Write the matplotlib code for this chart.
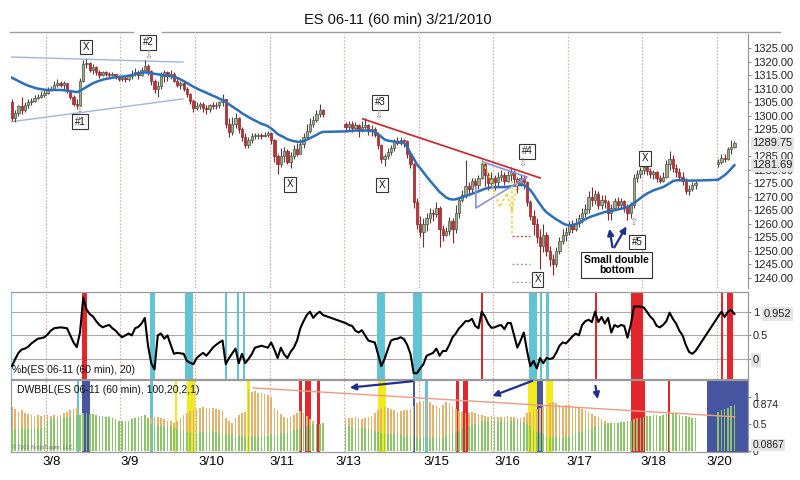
import numpy as np
import matplotlib.pyplot as plt
from matplotlib.lines import Line2D
from matplotlib.transforms import blended_transform_factory

plt.rcParams['font.family'] = ['Liberation Sans', 'DejaVu Sans']

# hourly slots; the empty stretches are hours with no bars on the chart
hours = list(range(0, 97)) + list(range(103, 212)) + list(range(218, 224))

# first open of each stretch, later opens are the previous close
first_open = [1305, 1297, 1282]

close_a = [1299, 1301, 1303.5, 1302, 1304, 1305, 1305.5, 1306.5, 1307, 1307.5,
           1308.5, 1309.5, 1310, 1311.5, 1312, 1311.5, 1312, 1309, 1307, 1304.5,
           1304, 1313, 1319, 1319.5, 1317, 1318, 1316, 1315, 1316, 1315.5,
           1315, 1315.5, 1314.5, 1313.5, 1314, 1313.5, 1314.5, 1315.5, 1316, 1315,
           1317, 1318.5, 1316.5, 1313, 1310, 1311, 1314.5, 1316, 1314.5, 1315.5,
           1313, 1311.5, 1312, 1310, 1308, 1305.5, 1303, 1303.5, 1304.5, 1303,
           1302.5, 1304, 1303.5, 1304, 1305, 1306, 1297, 1294, 1297, 1299,
           1295, 1292, 1289, 1291, 1292.5, 1292.5, 1293, 1292.5, 1293, 1293.5,
           1291, 1285, 1282, 1285, 1287, 1283, 1285, 1287.5, 1286, 1289.5,
           1292, 1294.5, 1297, 1298.5, 1300.5, 1302, 1300.5]
high_a = [1306, 1302, 1304, 1307, 1305, 1306, 1306.5, 1307.5, 1308, 1309,
          1309.5, 1310.5, 1311, 1313, 1313.5, 1313, 1313, 1312, 1309.5, 1307.5,
          1306, 1314, 1320.5, 1321, 1320, 1319, 1318.5, 1317, 1316.5, 1316.5,
          1316, 1316, 1315.5, 1315, 1315, 1314.5, 1315, 1317, 1317.5, 1317,
          1318, 1320.5, 1319, 1317, 1313.5, 1313, 1316, 1317, 1316.5, 1317,
          1316, 1314, 1313, 1312.5, 1310.5, 1308.5, 1306, 1305, 1305, 1305,
          1304, 1304.5, 1305, 1305, 1305.5, 1308, 1306, 1299, 1299.5, 1301,
          1299.5, 1296, 1293.5, 1292, 1293.5, 1293.5, 1293.5, 1293.5, 1294, 1294.5,
          1294, 1291.5, 1286, 1288, 1288.5, 1287.5, 1286.5, 1289, 1290, 1291.5,
          1293.5, 1297, 1299, 1300, 1302, 1304.5, 1302.5]
low_a = [1298, 1297.5, 1300, 1300.5, 1301.5, 1303, 1304, 1305, 1306, 1306.5,
         1307, 1308, 1309, 1309.5, 1310.5, 1310.5, 1310, 1308.5, 1306, 1303.5,
         1302.5, 1303.5, 1312.5, 1317.5, 1316, 1315.5, 1315, 1314, 1314.5, 1314.5,
         1314, 1314.5, 1313.5, 1313, 1313, 1312.5, 1313, 1313.5, 1314.5, 1313.5,
         1314.5, 1316, 1315, 1311.5, 1308.5, 1307, 1310, 1312.5, 1313, 1313.5,
         1312.5, 1310.5, 1310, 1309, 1307, 1304.5, 1301.5, 1302, 1302.5, 1301.5,
         1300.5, 1301.5, 1302.5, 1302.5, 1303, 1303.5, 1295.5, 1292, 1293, 1295.5,
         1293.5, 1290.5, 1288, 1288, 1290, 1291.5, 1291.5, 1291.5, 1292, 1292,
         1289.5, 1283, 1278.5, 1281, 1283, 1282, 1280.5, 1284, 1285, 1286,
         1288, 1291.5, 1293.5, 1296, 1297.5, 1299.5, 1299.5]

close_b = [1296, 1297, 1295.5, 1296.5, 1295, 1296, 1296.5, 1294.5, 1295, 1293,
           1289, 1284, 1285, 1286.5, 1288, 1290.5, 1290, 1291, 1290.5, 1286,
           1282, 1268, 1260, 1257, 1260, 1262, 1264, 1263.5, 1266, 1258,
           1256, 1257.5, 1261, 1258, 1264, 1269, 1270.5, 1274, 1273, 1276,
           1274.5, 1277, 1282, 1278, 1275, 1277, 1275.5, 1277.5, 1278, 1276,
           1278, 1279, 1276.5, 1275, 1277, 1275.5, 1268, 1263, 1260, 1255,
           1252, 1256, 1250, 1247, 1245, 1250, 1253.5, 1256, 1257, 1259.5,
           1258, 1260.5, 1262, 1264, 1265.5, 1270, 1269, 1271, 1267, 1269,
           1268, 1264, 1266, 1268.5, 1267, 1268.5, 1266.5, 1264, 1267, 1277,
           1278.5, 1280, 1281, 1279.5, 1278.5, 1279, 1277, 1276, 1277.5, 1282,
           1284, 1280.5, 1279, 1277.5, 1276, 1272, 1273, 1274.5, 1275]
high_b = [1297.5, 1298, 1298, 1297.5, 1297, 1298, 1299, 1297, 1296.5, 1296,
          1294, 1289.5, 1286, 1288, 1289, 1291.5, 1292, 1292, 1291.5, 1291,
          1287, 1282.5, 1269.5, 1263, 1262, 1264, 1266, 1265.5, 1268, 1266.5,
          1259.5, 1259, 1262.5, 1262, 1267, 1270, 1272.5, 1283.5, 1275.5, 1277,
          1277, 1278, 1283.5, 1282.5, 1279, 1279, 1278, 1279, 1280, 1279,
          1279.5, 1281, 1280, 1277.5, 1278, 1278, 1276, 1269, 1265, 1262,
          1258, 1260, 1257, 1252, 1249, 1251.5, 1255, 1258, 1259, 1261,
          1261.5, 1262, 1263.5, 1266, 1267.5, 1272, 1273.5, 1272.5, 1272, 1270.5,
          1270.5, 1269, 1267.5, 1269.5, 1270, 1269.5, 1269, 1267.5, 1268, 1278.5,
          1280, 1281, 1282, 1282.5, 1280.5, 1280, 1279.5, 1278, 1279, 1283.5,
          1287, 1285.5, 1282, 1280.5, 1279, 1277, 1274.5, 1275.5, 1276]
low_b = [1294.5, 1294.5, 1294, 1295, 1292, 1294, 1295, 1293, 1292.5, 1292,
         1287.5, 1282.5, 1281.5, 1284, 1285.5, 1287, 1289, 1289, 1288.5, 1284.5,
         1280.5, 1266, 1258, 1255, 1251.5, 1257.5, 1260.5, 1261, 1262.5, 1251.5,
         1253.5, 1255.5, 1256, 1253, 1256.5, 1262, 1268, 1269.5, 1271, 1271.5,
         1273, 1273, 1276.5, 1274, 1272.5, 1274, 1272.5, 1274, 1276, 1274.5,
         1275.5, 1276, 1275, 1271.5, 1274, 1273, 1266.5, 1261.5, 1256, 1253,
         1243.5, 1249.5, 1248, 1244.5, 1241, 1244, 1249, 1252.5, 1253.5, 1256,
         1256.5, 1257.5, 1259, 1260.5, 1262.5, 1264, 1266.5, 1267.5, 1265.5, 1265.5,
         1266, 1261.5, 1261.5, 1265, 1265.5, 1266, 1264.5, 1261.5, 1262, 1266,
         1275.5, 1277, 1278.5, 1278, 1277, 1276.5, 1275.5, 1275, 1275.5, 1277,
         1280, 1279, 1277.5, 1276, 1274.5, 1271, 1270.5, 1272, 1273]

close_c = [1283, 1284.5, 1284, 1287.5, 1288.5, 1289.75]
high_c = [1284, 1286, 1286, 1288.5, 1291, 1290.5]
low_c = [1281, 1282, 1283, 1283.5, 1286, 1288]

# moving average (blue line)
ma_a = [1314.0, 1313.4, 1312.8, 1312.2, 1311.6, 1311.1, 1310.7, 1310.3, 1310.0, 1309.8,
        1309.6, 1309.5, 1309.5, 1309.5, 1309.5, 1309.5, 1309.4, 1309.3, 1309.1, 1308.9,
        1308.7, 1309.2, 1309.9, 1310.6, 1311.3, 1312.0, 1312.5, 1312.9, 1313.3, 1313.6,
        1313.8, 1314.0, 1314.2, 1314.3, 1314.4, 1314.6, 1314.8, 1315.0, 1315.3, 1315.6,
        1315.9, 1316.0, 1315.9, 1315.7, 1315.5, 1315.3, 1315.1, 1314.9, 1314.7, 1314.6,
        1314.4, 1314.0, 1313.4, 1312.8, 1312.1, 1311.4, 1310.7, 1310.1, 1309.5, 1309.0,
        1308.5, 1307.9, 1307.4, 1306.9, 1306.3, 1305.8, 1305.0, 1304.2, 1303.4, 1302.6,
        1301.8, 1300.9, 1300.2, 1299.5, 1298.8, 1298.2, 1297.6, 1297.0, 1296.6, 1296.1,
        1295.3, 1294.3, 1293.2, 1292.6, 1292.0, 1291.3, 1290.9, 1290.6, 1290.4, 1290.3,
        1290.6, 1291.1, 1291.7, 1292.3, 1292.9, 1293.6, 1294.0]
ma_b = [1294.2, 1294.3, 1294.4, 1294.5, 1294.5, 1294.5, 1294.5, 1294.5, 1294.4, 1294.0,
        1293.2, 1292.2, 1291.2, 1290.8, 1290.6, 1290.4, 1290.3, 1290.2, 1290.0, 1288.5,
        1286.0, 1284.2, 1282.0, 1280.6, 1279.1, 1277.5, 1276.0, 1274.6, 1273.2, 1271.8,
        1270.8, 1269.8, 1269.2, 1269.0, 1269.1, 1269.5, 1269.9, 1270.3, 1270.7, 1271.1,
        1271.6, 1272.0, 1272.5, 1273.0, 1273.3, 1273.5, 1273.6, 1273.6, 1273.6, 1273.6,
        1273.7, 1273.9, 1274.1, 1274.3, 1274.4, 1274.4, 1273.6, 1272.5, 1270.9, 1269.0,
        1267.3, 1265.6, 1264.3, 1263.4, 1262.5, 1261.7, 1261.0, 1260.2, 1259.7, 1259.5,
        1259.6, 1259.9, 1260.3, 1261.0, 1261.8, 1262.3, 1262.8, 1263.2, 1263.6, 1264.0,
        1264.4, 1264.6, 1264.8, 1265.0, 1265.3, 1265.6, 1265.8, 1266.1, 1266.9, 1267.7,
        1268.6, 1269.5, 1270.4, 1271.2, 1271.8, 1272.4, 1272.8, 1273.2, 1273.6, 1274.3,
        1275.0, 1275.8, 1276.1, 1276.2, 1276.2, 1276.1, 1276.0, 1276.0, 1276.0]
ma_c = [1276.3, 1277.2, 1278.0, 1279.1, 1280.4, 1281.69]

# %b(20)
pctb_a = [-0.15, 0.0, 0.13, 0.2, 0.22, 0.26, 0.33, 0.38, 0.43, 0.44,
          0.46, 0.52, 0.6, 0.65, 0.66, 0.67, 0.66, 0.65, 0.5, 0.35,
          0.25, 0.56, 1.3, 1.05, 0.95, 0.9, 0.8, 0.72, 0.67, 0.7,
          0.72, 0.65, 0.6, 0.52, 0.46, 0.5, 0.54, 0.5, 0.65, 0.68,
          0.75, 0.87, 0.28, -0.09, -0.22, 0.5, 0.54, 0.43, 0.5, 0.3,
          0.11, 0.13, 0.12, 0.11, -0.04, -0.08, -0.11, 0.02, 0.08, 0.13,
          0.07, 0.15, 0.24, 0.3, 0.35, 0.39, -0.11, 0.02, 0.12, 0.22,
          -0.09, 0.11, -0.09, 0.0, 0.1, 0.24, 0.26, 0.28, 0.26, 0.24,
          0.35, 0.2, 0.02, 0.24, 0.1, 0.02, 0.15, 0.24, 0.39, 0.65,
          0.8, 0.93, 1.0, 0.87, 0.95, 1.0, 0.93]
pctb_b = [0.76, 0.72, 0.7, 0.6, 0.56, 0.61, 0.5, 0.39, 0.37, 0.35,
          0.1, -0.15, 0.0, 0.2, 0.39, 0.42, 0.43, 0.46, 0.42, 0.3,
          0.11, -0.3, -0.3, -0.2, -0.11, 0.07, 0.1, 0.13, 0.22, 0.07,
          0.17, 0.17, 0.3, 0.46, 0.54, 0.65, 0.72, 0.8, 0.8, 0.85,
          0.7, 0.65, 1.0, 0.9, 0.75, 0.66, 0.67, 0.7, 0.72, 0.63,
          0.76, 0.76, 0.5, 0.24, 0.39, 0.56, 0.17, -0.15, -0.04, -0.2,
          0.02, -0.09, 0.02, 0.0, 0.02, 0.13, 0.28, 0.35, 0.33, 0.4,
          0.48, 0.54, 0.5, 0.72, 0.8, 0.83, 0.78, 1.0, 0.78, 0.89,
          0.75, 0.87, 0.56, 0.72, 0.68, 0.72, 0.7, 0.45, 0.72, 1.11,
          1.11, 1.11, 1.09, 1.0, 0.9, 0.83, 0.7, 0.67, 0.72, 0.8,
          0.98, 0.85, 0.75, 0.6, 0.5, 0.3, 0.15, 0.11, 0.17]
pctb_c = [0.9, 1.0, 0.89, 1.0, 1.04, 0.952]

# DWBBL histogram, two series
dw_orange_a = [0.81, 0.78, 0.72, 0.75, 0.7, 0.68, 0.66, 0.65, 0.66, 0.65,
               0.66, 0.66, 0.64, 0.66, 0.65, 0.66, 0.7, 0.72, 0.75, 0.78,
               0.8, 0.6, 0.5, 0.45, 0.45, 0.45, 0.45, 0.42, 0.4, 0.4,
               0.38, 0.38, 0.38, 0.36, 0.36, 0.36, 0.36, 0.36, 0.36, 0.4,
               0.4, 0.42, 0.55, 0.6, 0.62, 0.62, 0.6, 0.58, 0.56, 0.55,
               0.52, 0.55, 0.6, 0.66, 0.7, 0.74, 0.76, 0.78, 0.8, 0.82,
               0.8, 0.8, 0.8, 0.78, 0.76, 0.74, 0.6, 0.55, 0.52, 0.6,
               0.66, 0.7, 0.72, 1.15, 1.1, 1.12, 1.08, 1.07, 1.06, 1.04,
               1.0, 0.8, 0.75, 0.68, 0.62, 0.6, 0.62, 0.66, 0.7, 0.74,
               0.7, 0.64, 0.58, 0.55, 0.5, 0.48, 0.5]
dw_green_a = [0.38, 0.4, 0.4, 0.42, 0.4, 0.4, 0.4, 0.4, 0.42, 0.42,
              0.45, 0.55, 0.58, 0.6, 0.6, 0.62, 0.6, 0.62, 0.62, 0.64,
              0.66, 0.66, 0.7, 0.7, 0.68, 0.68, 0.66, 0.65, 0.64, 0.62,
              0.62, 0.6, 0.58, 0.56, 0.55, 0.55, 0.55, 0.58, 0.6, 0.62,
              0.64, 0.66, 0.6, 0.5, 0.46, 0.45, 0.45, 0.45, 0.45, 0.45,
              0.42, 0.4, 0.38, 0.36, 0.34, 0.32, 0.32, 0.32, 0.34, 0.35,
              0.36, 0.36, 0.36, 0.34, 0.32, 0.32, 0.3, 0.3, 0.3, 0.28,
              0.28, 0.28, 0.28, 0.27, 0.27, 0.27, 0.27, 0.28, 0.28, 0.28,
              0.3, 0.3, 0.3, 0.32, 0.32, 0.34, 0.36, 0.38, 0.4, 0.42,
              0.44, 0.46, 0.48, 0.5, 0.5, 0.5, 0.52]
dw_orange_b = [0.58, 0.6, 0.6, 0.62, 0.6, 0.58, 0.6, 0.62, 0.65, 0.7,
               0.76, 0.8, 0.82, 0.8, 0.78, 0.75, 0.72, 0.74, 0.76, 0.75,
               0.78, 0.84, 0.88, 0.9, 0.92, 0.94, 0.9, 0.86, 0.84, 0.8,
               0.85, 0.9, 0.88, 0.82, 0.78, 0.74, 0.72, 0.7, 0.7, 0.72,
               0.7, 0.68, 0.66, 0.65, 0.62, 0.64, 0.62, 0.63, 0.62, 0.63,
               0.64, 0.62, 0.62, 0.6, 0.6, 0.62, 0.7, 0.72, 0.75, 0.78,
               0.8, 0.82, 0.84, 0.88, 0.9, 0.88, 0.86, 0.84, 0.85, 0.86,
               0.84, 0.82, 0.8, 0.78, 0.75, 0.72, 0.68, 0.65, 0.62, 0.58,
               0.55, 0.52, 0.5, 0.5, 0.5, 0.52, 0.54, 0.55, 0.56, 0.58,
               0.6, 0.6, 0.58, 0.3, 0.3, 0.3, 0.3, 0.3, 0.3, 0.3,
               0.3, 0.3, 0.3, 0.3, 0.3, 0.3, 0.3, 0.3, 0.3]
dw_green_b = [0.45, 0.45, 0.44, 0.44, 0.42, 0.42, 0.42, 0.4, 0.38, 0.36,
              0.34, 0.32, 0.32, 0.3, 0.3, 0.3, 0.3, 0.3, 0.28, 0.28,
              0.28, 0.25, 0.25, 0.24, 0.24, 0.24, 0.24, 0.25, 0.25, 0.25,
              0.26, 0.28, 0.3, 0.32, 0.34, 0.36, 0.4, 0.42, 0.45, 0.48,
              0.5, 0.52, 0.55, 0.56, 0.56, 0.56, 0.56, 0.56, 0.56, 0.55,
              0.55, 0.55, 0.55, 0.55, 0.54, 0.54, 0.5, 0.45, 0.4, 0.35,
              0.32, 0.3, 0.28, 0.26, 0.25, 0.25, 0.25, 0.26, 0.27, 0.28,
              0.3, 0.32, 0.34, 0.36, 0.38, 0.4, 0.42, 0.44, 0.46, 0.48,
              0.5, 0.5, 0.52, 0.52, 0.52, 0.53, 0.54, 0.55, 0.56, 0.56,
              0.58, 0.6, 0.62, 0.64, 0.65, 0.66, 0.66, 0.65, 0.66, 0.68,
              0.72, 0.7, 0.68, 0.66, 0.65, 0.64, 0.62, 0.6, 0.6]
dw_orange_c = [0.15, 0.15, 0.15, 0.15, 0.15, 0.15]
dw_green_c = [0.72, 0.76, 0.78, 0.8, 0.84, 0.85]

# highlighted hours: start slot, end slot, colour key
pctb_band_start = [21.6, 42.6, 53.4, 65.7, 69.4, 71.3, 112.7, 123.8, 144.8, 159.6, 162.9, 164.8, 179.9, 191.0, 218.8, 220.8]
pctb_band_end = [23.1, 44.1, 55.9, 66.4, 70.0, 71.9, 115.1, 126.5, 145.4, 162.1, 163.5, 165.7, 180.5, 194.8, 219.4, 222.6]
pctb_band_kind = ['r', 'c', 'c', 'c', 'c', 'c', 'c', 'c', 'r', 'c', 'c', 'c', 'r', 'r', 'r', 'r']

dw_band_start = [20.1, 21.6, 42.6, 50.3, 53.9, 72.5, 88.6, 90.4, 94.2, 112.9, 123.8, 127.5, 137.0, 139.2, 159.2, 162.0, 164.8, 191.0, 202.5, 214.5]
dw_band_end = [20.6, 24.1, 43.5, 50.9, 56.5, 73.5, 89.5, 92.3, 95.1, 115.6, 124.4, 128.4, 138.0, 140.7, 162.0, 163.9, 166.9, 195.4, 203.0, 227.2]
dw_band_kind = ['c', 'n', 'c', 'y', 'y', 'y', 'r', 'r', 'r', 'y', 'n', 'c', 'r', 'r', 'y', 'n', 'y', 'r', 'r', 'n']

day_breaks = [10.5, 33.5, 56.5, 79.5, 102.5, 125.5, 148.5, 171.5, 194.5, 217.5]
day_labels = ['3/8', '3/9', '3/10', '3/11', '3/13', '3/15', '3/16', '3/17', '3/18', '3/20']
day_label_slot = [12.3, 36.4, 61.7, 83.3, 103.7, 130.9, 152.8, 175.3, 198.1, 218.2]

# chart markings
mark_text = ['X', '#1', '#2', 'X', '#3', 'X', '#4', 'X', 'X', '#5']
mark_slot = [22.8, 21.0, 42.0, 85.8, 113.6, 114.2, 159.0, 162.3, 195.4, 192.9]
mark_price = [1325.4, 1297.7, 1327.2, 1274.7, 1305.0, 1274.4, 1286.9, 1239.6, 1284.3, 1253.3]
hint_text = ['\u21e7', '\u21e9', '\u21e9', '\u21e9', '\u21e7']
hint_slot = [20.7, 42.0, 113.0, 157.7, 191.7]
hint_price = [1302.5, 1322.4, 1300.2, 1282.5, 1260.7]

BAND = {'r': '#e2262b', 'c': '#62c3d4', 'y': '#f3ea1e', 'n': '#47549f'}
SEP = '#e6a99c'

close = np.array(close_a + close_b + close_c)
high = np.array(high_a + high_b + high_c)
low = np.array(low_a + low_b + low_c)
opens = []
for o0, seg in zip(first_open, [close_a, close_b, close_c]):
    opens += [o0] + seg[:-1]
opens = np.array(opens)
x = np.array(hours)
ma = ma_a + ma_b + ma_c
pctb = pctb_a + pctb_b + pctb_c
dw_orange = dw_orange_a + dw_orange_b + dw_orange_c
dw_green = dw_green_a + dw_green_b + dw_green_c

fig = plt.figure(figsize=(8, 4.8), dpi=100)
ax_p = fig.add_axes([0.01375, 0.4, 0.92125, 0.5292])
ax_b = fig.add_axes([0.01375, 0.2104, 0.92125, 0.18125])
ax_d = fig.add_axes([0.01375, 0.0583, 0.92125, 0.15])

for ax in (ax_p, ax_b, ax_d):
    ax.set_xlim(-0.3, 227.2)
    for s in day_breaks:
        ax.axvline(s, color=SEP, lw=0.8, ls=(0, (1.5, 1.5)), zorder=0)
    ax.yaxis.tick_right()
    ax.tick_params(axis='x', bottom=False, labelbottom=False)
    ax.tick_params(axis='y', length=2.5, width=0.6, color='#777777', pad=1,
                   labelsize=8, labelcolor='#222222')
    for sp in ax.spines.values():
        sp.set_color('#9a9a9a')
        sp.set_linewidth(0.9)

# ---- price panel ----
ax_p.set_ylim(1236.3, 1330.2)
for side in ('top', 'left', 'bottom'):
    ax_p.spines[side].set_visible(False)
ticks = [v for v in range(1240, 1330, 5) if v != 1290]
ax_p.set_yticks(ticks)
ax_p.set_yticklabels([f'{v:.2f}' for v in ticks])

up = close >= opens
body = np.maximum(np.abs(close - opens), 0.3)
ax_p.vlines(x, low, high, colors=np.where(up, '#444444', '#8e2328'), lw=0.8, zorder=2)
ax_p.bar(x, body, bottom=np.minimum(opens, close), width=0.72,
         color=np.where(up, '#9fae8e', '#b8353a'),
         edgecolor=np.where(up, '#4a5440', '#8e2328'), lw=0.5, zorder=3)
ax_p.plot(x, ma, color='#2c6fb6', lw=1.8, zorder=4)

ax_p.plot([-0.6, 52.8], [1321.7, 1319.8], color='#9fb5dd', lw=1.0, zorder=1)
ax_p.plot([-0.6, 52.8], [1297.7, 1306.2], color='#9fb5dd', lw=1.0, zorder=1)
ax_p.plot([108.3, 163.0], [1298.8, 1277.0], color='#c2303a', lw=1.3, zorder=5)
ax_p.plot([143.2, 143.2, 159.0, 145.4], [1273.6, 1265.9, 1277.3, 1282.9],
          color='#8c8ee0', lw=1.2, zorder=5)
ax_p.plot([145.4, 146.9, 150.6, 152.8, 154.3, 156.2], [1282.9, 1278.8, 1266.2, 1271.4, 1264.4, 1276.2],
          color='#f0cf3a', lw=1.2, ls=(0, (1.5, 1.5)), zorder=5)
ax_p.plot([154.3, 154.3], [1276.0, 1255.5], color='#f0cf3a', lw=1.2, ls=(0, (1.5, 1.5)), zorder=5)
ax_p.plot([154.3, 159.9], [1255.5, 1255.5], color='#d04a4a', lw=1.0, ls=(0, (1.5, 1.5)), zorder=5)
ax_p.plot([154.3, 159.9], [1245.2, 1245.2], color='#9a9ab8', lw=1.0, ls=(0, (1.5, 1.5)), zorder=5)
ax_p.plot([154.3, 159.9], [1238.5, 1238.5], color='#c8a0a0', lw=1.0, ls=(0, (1.5, 1.5)), zorder=5)

for t, sx, sy in zip(mark_text, mark_slot, mark_price):
    ax_p.text(sx, sy, t, ha='center', va='center', fontsize=7, color='#111111', zorder=6,
              bbox=dict(boxstyle='square,pad=0.25', fc='white', ec='#333333', lw=0.8))
for t, sx, sy in zip(hint_text, hint_slot, hint_price):
    ax_p.text(sx, sy, t, ha='center', va='center', fontsize=7, color='#888888',
              family=['DejaVu Sans'], zorder=6)

ax_p.text(186.7, 1244.8, 'Small double\nbottom', ha='center', va='center', fontsize=7.5,
          fontweight='bold', linespacing=1.05, zorder=6,
          bbox=dict(boxstyle='square,pad=0.3', fc='white', ec='#333333', lw=0.8))
for hx, hy in [(184.3, 1259.2), (190.1, 1260.0)]:
    ax_p.annotate('', xy=(hx, hy), xytext=(185.5, 1250.4),
                  arrowprops=dict(arrowstyle='-|>', color='#1f2f8f', lw=1.6, mutation_scale=9), zorder=6)

tr_p = blended_transform_factory(ax_p.transAxes, ax_p.transData)
for val, txt in [(1289.75, '1289.75'), (1281.69, '1281.69')]:
    ax_p.text(1.006, val, txt, transform=tr_p, ha='left', va='center', fontsize=8, color='#222222',
              bbox=dict(boxstyle='square,pad=0.15', fc='#e4e4e4', ec='none'), clip_on=False, zorder=7)

# ---- %b panel ----
ax_b.set_ylim(-0.423, 1.417)
for k0, k1, kind in zip(pctb_band_start, pctb_band_end, pctb_band_kind):
    ax_b.axvspan(k0, k1, color=BAND[kind], lw=0, zorder=1)
for g in (0, 0.5, 1):
    ax_b.axhline(g, color='#a8a8a8', lw=0.8, zorder=0.5)
ax_b.plot(x, pctb, color='black', lw=1.5, zorder=3)
ax_b.spines['left'].set_color('#7cc6d6')
ax_b.set_yticks([0, 0.5, 1])
ax_b.set_yticklabels(['0', '0.5', '1'])
ax_b.get_yticklabels()[0].set_bbox(dict(boxstyle='square,pad=0.15', fc='#e4e4e4', ec='none'))
tr_b = blended_transform_factory(ax_b.transAxes, ax_b.transData)
ax_b.text(1.021, 0.952, '0.952', transform=tr_b, ha='left', va='center', fontsize=8, color='#222222',
          bbox=dict(boxstyle='square,pad=0.15', fc='#e4e4e4', ec='none'), clip_on=False)
fig.text(12 / 800, 1 - 370 / 480, '%b(ES 06-11 (60 min), 20)', fontsize=7.5, va='center', color='#111111')

# ---- DWBBL panel ----
ax_d.set_ylim(-0.028, 1.318)
for k0, k1, kind in zip(dw_band_start, dw_band_end, dw_band_kind):
    ax_d.axvspan(k0, k1, color=BAND[kind], lw=0, zorder=1)
ax_d.bar(x, dw_orange, width=0.5, color='#e2b46e', lw=0, zorder=2)
ax_d.bar(x, dw_green, width=0.5, color='#8cc46b', lw=0, zorder=3)
ax_d.plot([74.4, 223.1], [1.17, 0.63], color='#ee9a85', lw=1.0, zorder=4)
for (t0, t1), (h0, h1) in [((124.4, 1.30), (103.4, 1.17)), ((161.4, 1.32), (147.5, 1.0)),
                           ((180.0, 1.26), (180.9, 0.91))]:
    ax_d.annotate('', xy=(h0, h1), xytext=(t0, t1), annotation_clip=False,
                  arrowprops=dict(arrowstyle='-|>', color='#1f2f8f', lw=1.6, mutation_scale=9), zorder=6)
ax_d.set_yticks([0, 0.5, 1])
ax_d.set_yticklabels(['0', '0.5', '1'])
ax_d.tick_params(axis='y', labelsize=7.5)
tr_d = blended_transform_factory(ax_d.transAxes, ax_d.transData)
ax_d.text(1.006, 0.86, '0.874', transform=tr_d, ha='left', va='center', fontsize=7.5, color='#222222', clip_on=False)
ax_d.text(1.006, 0.1, '0.0867', transform=tr_d, ha='left', va='center', fontsize=7.5, color='#222222',
          bbox=dict(boxstyle='square,pad=0.1', fc='#e4e4e4', ec='none'), clip_on=False)
ax_d.tick_params(axis='x', bottom=True, labelbottom=True, length=0, pad=3, labelsize=9.5)
ax_d.set_xticks(day_label_slot)
ax_d.set_xticklabels(day_labels)
fig.text(17 / 800, 1 - 390 / 480, 'DWBBL(ES 06-11 (60 min), 100,20,2,1)', fontsize=7.5, va='center', color='#111111')
fig.text(12 / 800, 1 - 447 / 480, '\u00a9 2011 NinjaTrader, LLC', fontsize=4, va='center', color='#777777')

# title and frame line
fig.text(0.4975, 1 - 20 / 480, 'ES 06-11 (60 min) 3/21/2010', ha='center', va='center', fontsize=10.5, color='#111111')
fig.add_artist(Line2D([10 / 800, 133 / 800], [0.933, 0.933], color='#9a9a9a', lw=1.0))
fig.add_artist(Line2D([162 / 800, 780 / 800], [0.933, 0.933], color='#9a9a9a', lw=1.0))

fig.savefig('out.png', dpi=100)
